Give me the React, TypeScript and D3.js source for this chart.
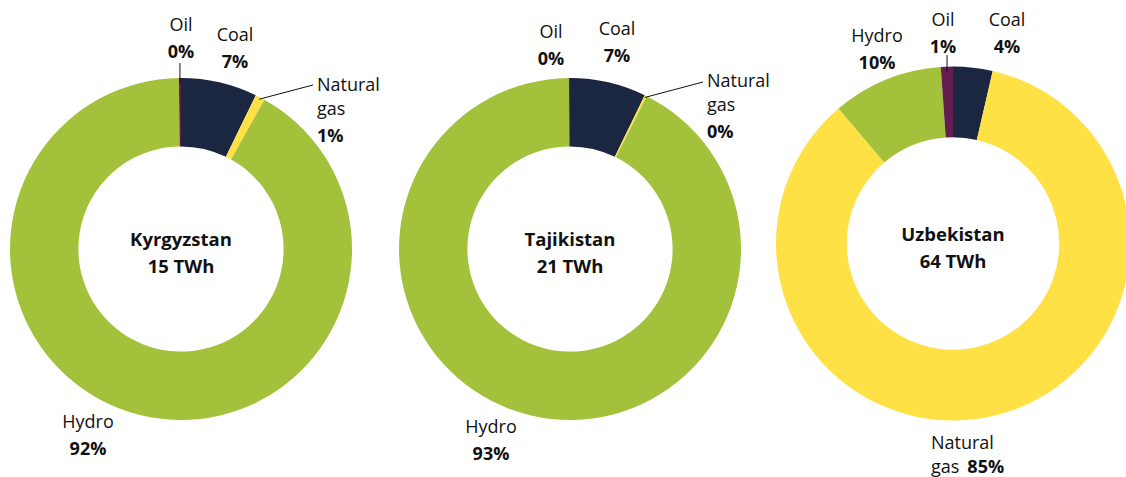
import * as d3 from 'd3';
import React from 'react';

// chart data
const countries = ['Kyrgyzstan', 'Tajikistan', 'Uzbekistan'];
const totals = ['15 TWh', '21 TWh', '64 TWh'];
const fuels = ['Coal', 'Natural gas', 'Hydro', 'Oil'];
const coal = [7.2, 7.2, 3.6];
const gas = [0.9, 0.2, 85.2];
const hydro = [91.6, 92.5, 10.1];
const oil = [0.2, 0.1, 1.1];

const colors = ['#1b2640', '#ffe045', '#a4c13c', '#621e4e'];

const W = 1126;
const H = 477;
const FONT = "'Open Sans', sans-serif";

// donut placement
const donuts = [
  { cx: 181, cy: 249, r: 171 },
  { cx: 570, cy: 249, r: 171 },
  { cx: 953, cy: 243.5, r: 177 },
];

// label placement per country
type Lab = { f: number; x: number; y: number; anchor: string; leader?: [number, number]; split?: boolean; inline?: boolean };
const labels: Lab[][] = [
  [
    { f: 3, x: 181, y: 31, anchor: 'middle', leader: [0, 63] },
    { f: 0, x: 235, y: 41, anchor: 'middle' },
    { f: 1, x: 317, y: 91, anchor: 'start', leader: [313, 85], split: true },
    { f: 2, x: 88, y: 428, anchor: 'middle' },
  ],
  [
    { f: 3, x: 551, y: 38, anchor: 'middle' },
    { f: 0, x: 617, y: 35, anchor: 'middle' },
    { f: 1, x: 707, y: 87, anchor: 'start', leader: [703, 82], split: true },
    { f: 2, x: 491, y: 433, anchor: 'middle' },
  ],
  [
    { f: 2, x: 877, y: 42, anchor: 'middle' },
    { f: 3, x: 943, y: 26, anchor: 'middle', leader: [0, 55] },
    { f: 0, x: 1007, y: 26, anchor: 'middle' },
    { f: 1, x: 931, y: 449, anchor: 'start', split: true, inline: true },
  ],
];

const pct = (v: number) => `${Math.round(v)}%`;

const Donut = ({ i }: { i: number }) => {
  const { cx, cy, r } = donuts[i];
  const values = [coal[i], gas[i], hydro[i], oil[i]];
  const pie = d3.pie<number>().sort(null).value((d) => d);
  const arcs = pie(values);
  const arc = d3.arc<d3.PieArcDatum<number>>().innerRadius(r * 0.6).outerRadius(r);

  return (
    <g>
      <g transform={`translate(${cx},${cy})`}>
        {arcs.map((a, k) => (
          <path key={k} d={arc(a) || ''} fill={colors[k]} />
        ))}
        <text textAnchor="middle" fontFamily={FONT} fontWeight={700} fontSize={18.5} fill="#111">
          <tspan x={0} y={-3}>{countries[i]}</tspan>
          <tspan x={0} y={24}>{totals[i]}</tspan>
        </text>
      </g>
      {labels[i].map((l, k) => {
        const a = arcs[l.f];
        const mid = (a.startAngle + a.endAngle) / 2;
        let leader = null;
        if (l.leader) {
          if (l.leader[0] === 0) {
            // vertical tick from label down into the slice
            const px = cx + (r - 5) * Math.sin(mid);
            const py = cy - (r - 5) * Math.cos(mid);
            leader = <line x1={px} y1={l.leader[1]} x2={px} y2={py} stroke="#111" strokeWidth={1} />;
          } else {
            const px = cx + (r - 2) * Math.sin(mid);
            const py = cy - (r - 2) * Math.cos(mid);
            leader = <line x1={px} y1={py} x2={l.leader[0]} y2={l.leader[1]} stroke="#111" strokeWidth={1} />;
          }
        }
        const name = fuels[l.f];
        const v = pct(values[l.f]);
        return (
          <g key={k}>
            {leader}
            <text x={l.x} y={l.y} textAnchor={l.anchor} fontFamily={FONT} fontSize={18} fill="#111">
              {l.split ? (
                l.inline ? (
                  <>
                    <tspan x={l.x} y={l.y}>Natural</tspan>
                    <tspan x={l.x} y={l.y + 24}>gas</tspan>
                    <tspan dx={8} fontWeight={700}>{v}</tspan>
                  </>
                ) : (
                  <>
                    <tspan x={l.x} y={l.y}>Natural</tspan>
                    <tspan x={l.x} y={l.y + 24}>gas</tspan>
                    <tspan x={l.x} y={l.y + 51} fontWeight={700}>{v}</tspan>
                  </>
                )
              ) : (
                <>
                  <tspan x={l.x} y={l.y}>{name}</tspan>
                  <tspan x={l.x} y={l.y + 27} fontWeight={700}>{v}</tspan>
                </>
              )}
            </text>
          </g>
        );
      })}
    </g>
  );
};

export default function App() {
  return (
    <svg width={W} height={H} style={{ position: 'absolute', left: 0, top: 0, background: '#fff' }}>
      {countries.map((c, i) => (
        <Donut key={c} i={i} />
      ))}
    </svg>
  );
}
